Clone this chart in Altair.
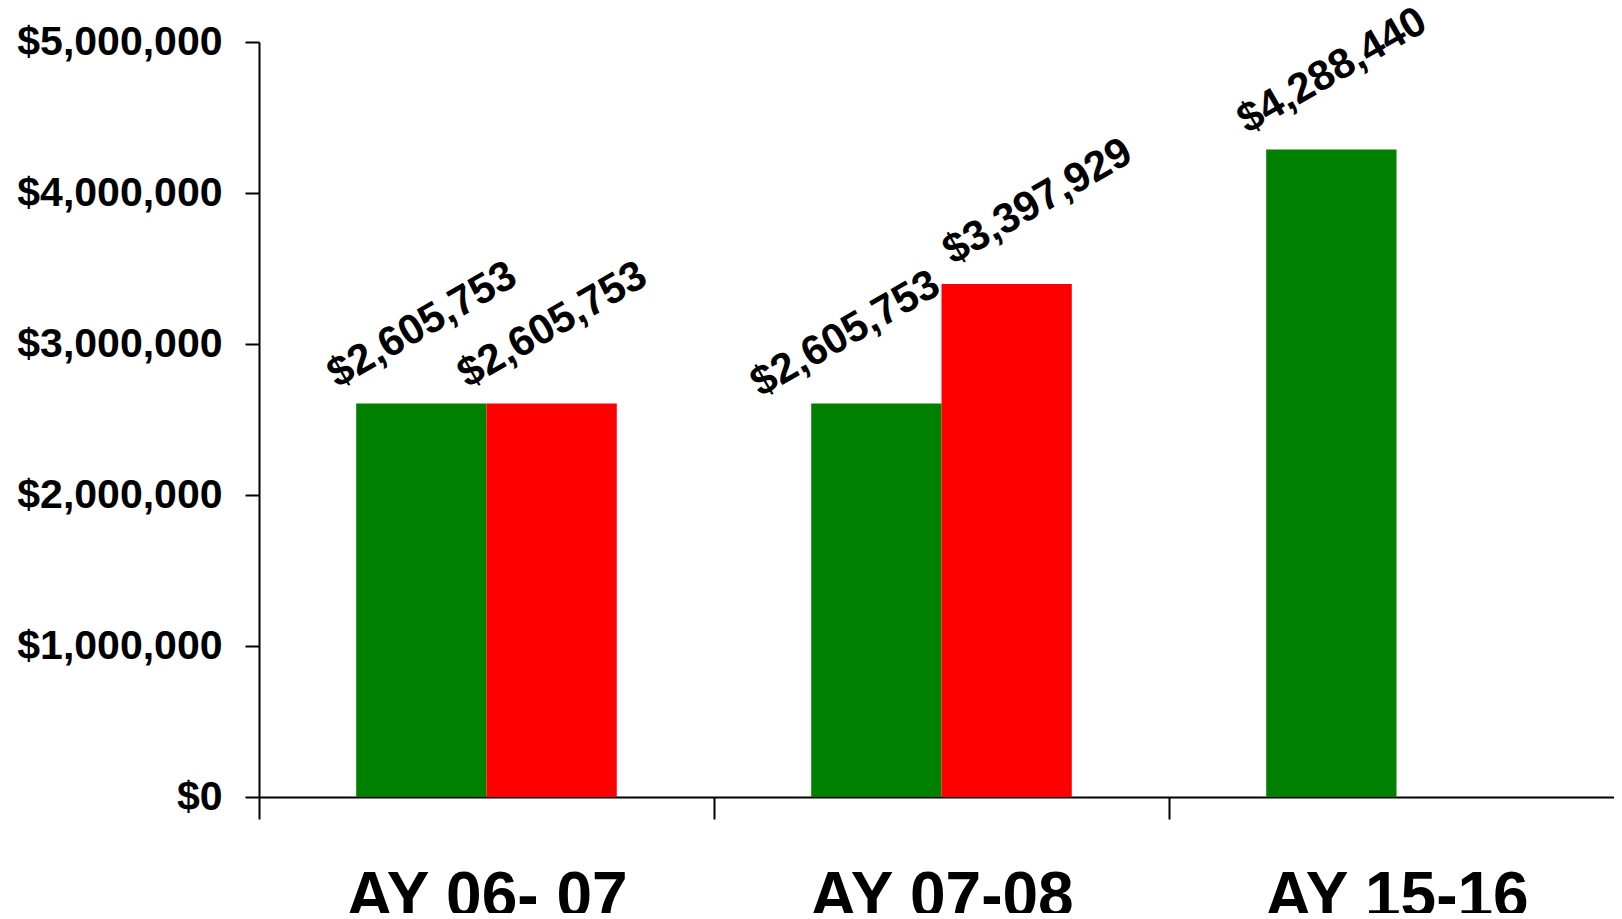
import altair as alt
import pandas as pd

categories = ["AY 06- 07", "AY 07-08", "AY 15-16"]
series_names = ["Series 1", "Series 2"]
series1_values = [2605753, 2605753, 4288440]
series2_values = [2605753, 3397929, None]
series_colors = ["#008000", "#FF0000"]
y_ticks = [0, 1000000, 2000000, 3000000, 4000000, 5000000]

rows = []
for i, cat in enumerate(categories):
    for name, vals in zip(series_names, [series1_values, series2_values]):
        if vals[i] is not None:
            rows.append({"category": cat, "series": name, "value": vals[i]})
df = pd.DataFrame(rows)

FONT = "Liberation Sans"

# The plot area runs off the right edge of the page, as in the reference.
x_enc = alt.X(
    "category:N",
    sort=categories,
    scale=alt.Scale(paddingInner=0, paddingOuter=0, range=[0, 1365]),
    axis=alt.Axis(
        title=None,
        labelAngle=0,
        labelFont=FONT,
        labelFontSize=64,
        labelFontWeight="bold",
        labelColor="black",
        labelPadding=46,
        labelBaseline="top",
        labelLimit=0,
        tickBand="extent",
        tickSize=22,
        tickWidth=2,
        tickColor="black",
        domainColor="black",
        domainWidth=2,
        grid=False,
    ),
)
xoff_enc = alt.XOffset(
    "series:N",
    sort=series_names,
    scale=alt.Scale(paddingInner=0, paddingOuter=0.746),
)
y_enc = alt.Y(
    "value:Q",
    scale=alt.Scale(domain=[0, 5000000], nice=False),
    axis=alt.Axis(
        title=None,
        values=y_ticks,
        format="$,.0f",
        labelFont=FONT,
        labelFontSize=41,
        labelFontWeight="bold",
        labelColor="black",
        labelPadding=23,
        labelLimit=0,
        tickSize=14,
        tickWidth=2,
        tickColor="black",
        domainColor="black",
        domainWidth=2,
        grid=False,
    ),
)

bars = alt.Chart(df).mark_bar(strokeWidth=0).encode(
    x=x_enc,
    xOffset=xoff_enc,
    y=y_enc,
    color=alt.Color(
        "series:N",
        scale=alt.Scale(domain=series_names, range=series_colors),
        legend=None,
    ),
)

label_style = dict(
    angle=330,
    align="center",
    baseline="middle",
    font=FONT,
    fontSize=42,
    fontWeight="bold",
    color="black",
)


def label_layer(filter_expr, dx, dy):
    return (
        alt.Chart(df)
        .transform_filter(filter_expr)
        .mark_text(dx=dx, dy=dy, **label_style)
        .encode(
            x=x_enc,
            xOffset=xoff_enc,
            y=y_enc,
            text=alt.Text("value:Q", format="$,.0f"),
        )
    )


mid = categories[1]
labels_main = label_layer(alt.datum.category != mid, 40, -68)
labels_mid_left = label_layer(
    (alt.datum.category == mid) & (alt.datum.series == series_names[0]), 8, -76
)
labels_mid_right = label_layer(
    (alt.datum.category == mid) & (alt.datum.series == series_names[1]), 68, -56
)

chart = (
    alt.layer(bars, labels_main, labels_mid_left, labels_mid_right)
    .properties(
        width=1355,
        height=755,
        autosize=alt.AutoSizeParams(type="none"),
        padding={"left": 251, "top": 34, "right": 0, "bottom": 116},
        background="white",
    )
    .configure_view(stroke=None)
)

chart.save("out.html", embed_options={"renderer": "svg", "actions": False})
